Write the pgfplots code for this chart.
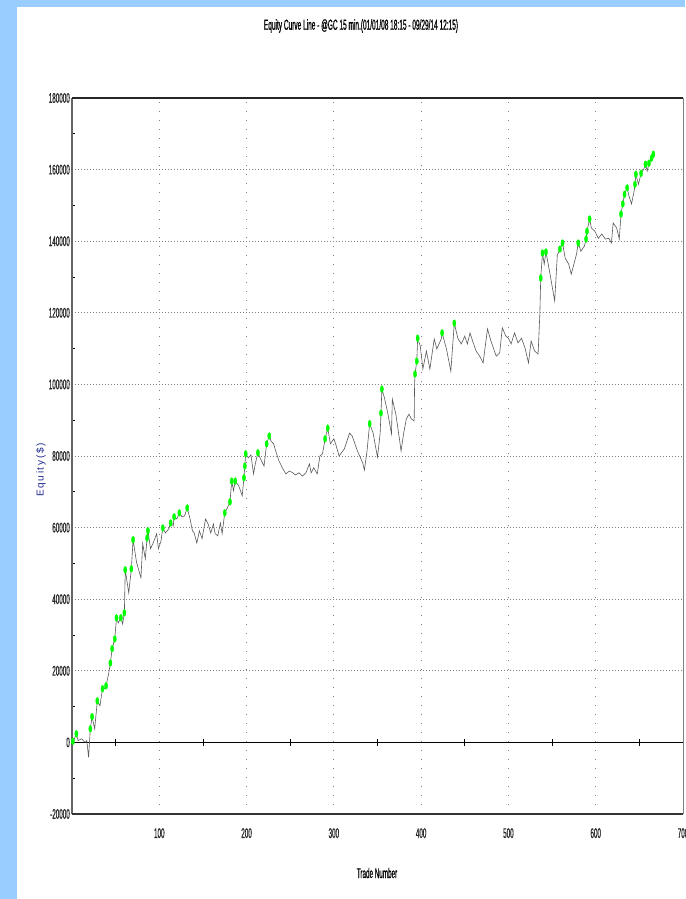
\documentclass[border=0pt]{standalone}
\usepackage{fontspec}
\setmainfont{Liberation Sans}
\newfontfamily\narrow[FakeStretch=0.45,FakeBold=0.6]{Liberation Sans}
\usepackage{pgfplots}
\pgfplotsset{compat=1.18}
\definecolor{bluestrip}{RGB}{153,204,255}
\definecolor{ylab}{RGB}{30,40,140}
\begin{document}
\begin{tikzpicture}
\useasboundingbox (0pt,0pt) rectangle (685pt,-899pt);
\fill[white] (0pt,0pt) rectangle (685pt,-899pt);
\fill[bluestrip] (0pt,0pt) rectangle (17pt,-899pt);
\fill[bluestrip] (0pt,0pt) rectangle (685pt,-7pt);
\node[font=\narrow\fontsize{14.5}{16}\selectfont] at (361pt,-26pt) {Equity Curve Line - @GC 15 min.(01/01/08 18:15 - 09/29/14 12:15)};
\node[font=\narrow\fontsize{14}{16}\selectfont] at (377pt,-873pt) {Trade Number};
\node[font=\fontsize{10}{12}\selectfont, text=ylab, rotate=90] at (41pt,-470pt) {E\,q\,u\,i\,t\,y\,(\,\$\,)};
\coordinate (A) at (72pt,-98pt);
\begin{axis}[at={(A)}, anchor=north west, width=611pt, height=716pt, scale only axis,
  xmin=0, xmax=700, ymin=-20000, ymax=180000, clip=false,
  scaled x ticks=false, scaled y ticks=false,
  axis line style={draw=none},
  xtick={100,200,300,400,500,600,700}, xticklabels={100,200,300,400,500,600,700},
  ytick={-20000,0,20000,40000,60000,80000,100000,120000,140000,160000,180000},
  yticklabels={-20000,0,20000,40000,60000,80000,100000,120000,140000,160000,180000},
  minor ytick={-10000,10000,30000,50000,70000,90000,110000,130000,150000,170000},
  ytick pos=left, xtick pos=bottom,
  major tick length=0pt, minor tick length=2.5pt,
  minor tick style={black, line width=1pt},
  xmajorgrids, ymajorgrids,
  x grid style={gray, line width=0.8pt, dash pattern=on 1pt off 8pt},
  y grid style={gray, line width=0.7pt, dash pattern=on 1.2pt off 1.8pt},
  ticklabel style={font=\narrow\fontsize{14}{16}\selectfont, inner sep=0pt, text=black!85},
  yticklabel style={anchor=east, xshift=-2pt},
  xticklabel style={anchor=north, yshift=-14pt},
  /pgf/number format/assume math mode=true,
]
\draw[black, line width=1.3pt] (axis cs:0,0) -- (axis cs:700,0);
\pgfplotsinvokeforeach{50,150,250,350,450,550,650}{\draw[black, line width=0.6pt] (axis cs:#1,-1000) -- (axis cs:#1,1000);}
\addplot[black!65, line width=0.6pt] coordinates {
(1,0) (5,2400) (7,500) (11,1000) (15,0) (17,500) (19,-4200) (21,3800) (23,7200) (26,3800)
(29,11600) (32,10200) (35,15000) (37,15000) (39,15800) (42,19200) (44,22200) (46,26200) (49,28900) (51,34800)
(53,33400) (56,34800) (58,33100) (60,36200) (61,48200) (65,41800) (68,48500) (70,56600) (74,50200) (79,46000)
(81,55500) (84,51300) (86,57100) (87,59100) (90,54100) (93,55700) (97,58300) (99,54100) (102,56300) (104,59900)
(107,58500) (111,59700) (113,61300) (116,60500) (117,63000) (120,62400) (123,64100) (126,63000) (129,63300) (132,65500)
(135,62700) (138,59100) (140,58500) (143,55700) (146,59100) (149,56900) (153,62400) (156,61000) (159,58500) (162,61000)
(164,58300) (167,57700) (170,61300) (172,58300) (175,64100) (178,65500) (181,67200) (183,73000) (185,70300) (187,73000)
(191,71700) (195,68900) (197,73900) (198,77200) (199,80600) (202,79500) (205,80300) (208,75000) (210,77800) (213,80900)
(216,79200) (220,77200) (223,83400) (226,85600) (228,84200) (231,83400) (234,80900) (237,78700) (241,76700) (245,75000)
(249,75800) (253,75300) (256,74700) (260,75300) (264,74400) (268,75300) (272,77800) (274,75300) (277,76700) (281,75000)
(284,80000) (287,80600) (290,84800) (293,87800) (296,83400) (300,84800) (302,83400) (306,80000) (312,82000) (318,86400)
(321,85600) (327,81400) (333,78100) (335,76100) (338,81400) (341,89000) (345,86400) (348,82300) (350,79700) (353,86200)
(354,92000) (355,98700) (358,96200) (362,91700) (366,86200) (367,95900) (371,91700) (375,85000) (377,81400) (380,86400)
(383,90300) (386,91700) (389,90300) (392,89800) (392.5,100100) (393,102900) (395,106500) (396,112900) (399,110700) (402,104300)
(406,109300) (410,104300) (415,112700) (418,109900) (423,112700) (424,114400) (429,109900) (434,103700) (438,117100) (442,112900)
(446,111300) (450,113500) (453,111300) (456,114400) (459,112100) (463,109300) (467,107900) (471,106000) (476,115500) (480,112100)
(484,109300) (486,107900) (490,108800) (493,115800) (497,113500) (500,112900) (503,111300) (507,114400) (511,111600) (515,112900)
(519,110200) (523,106000) (526,112100) (530,109300) (534,108500) (536,119700) (537,129700) (539,136700) (541,133600) (543,137000)
(547,131700) (553,123300) (556,136100) (559,137800) (562,139500) (565,135300) (569,133600) (572,130800) (575,133600) (578,136400)
(580,139500) (583,137200) (587,138600) (589,140600) (590,142800) (593,146200) (595,143700) (599,142800) (603,140800) (607,142000)
(611,140600) (615,140800) (618,139500) (620,145100) (624,143700) (627,140600) (629,147600) (631,150400) (633,153100) (636,154900)
(638,152700) (641,150400) (644,154000) (645,155900) (646,158700) (649,155900) (652,159000) (655,160100) (657,161500) (659,159600)
(661,161800) (664,163200) (666,164300) (667,163700)
};
\addplot[only marks, mark=*, mark size=2pt, mark options={fill=green, draw=green, xscale=0.8, yscale=1.7}] coordinates {
(1,300) (5,2400) (21,3800) (23,7200) (29,11600) (35,15000) (39,15800) (44,22200) (46,26200) (49,28900)
(51,34800) (56,34800) (60,36200) (61,48200) (68,48500) (70,56600) (86,57100) (87,59100) (104,59900) (113,61300)
(117,63000) (123,64100) (132,65500) (175,64100) (181,67200) (183,73000) (187,73000) (197,73900) (198,77200) (199,80600)
(213,80900) (223,83400) (226,85600) (290,84800) (293,87800) (341,89000) (354,92000) (355,98700) (393,102900) (395,106500)
(396,112900) (424,114400) (438,117100) (537,129700) (539,136700) (543,137000) (559,137800) (562,139500) (580,139500) (589,140600)
(590,142800) (593,146200) (629,147600) (631,150400) (633,153100) (636,154900) (645,155900) (646,158700) (652,159000) (657,161500)
(661,161800) (664,163200) (666,164300)
};
\draw[gray!80!black, line width=1.2pt] (rel axis cs:0,0) -- (rel axis cs:0,1);
\draw[black!85, line width=1.6pt] (rel axis cs:0,1) -- (rel axis cs:1,1);
\draw[black!80, line width=1.6pt] (rel axis cs:0,0) -- (rel axis cs:1,0);
\draw[gray, line width=1pt] (rel axis cs:1,0) -- (rel axis cs:1,1);
\end{axis}
\end{tikzpicture}
\end{document}
